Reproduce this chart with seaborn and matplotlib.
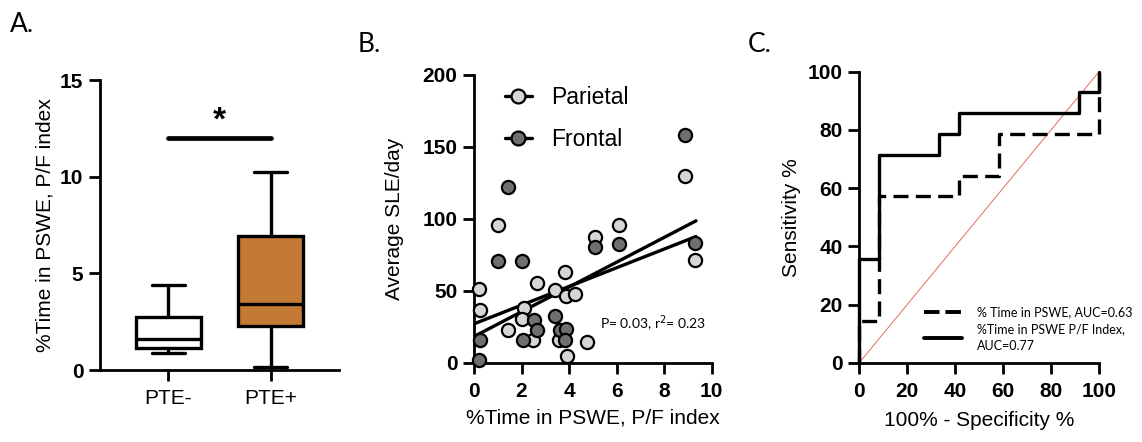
import numpy as np
import pandas as pd
import matplotlib
matplotlib.use("Agg")
import matplotlib.pyplot as plt
from matplotlib.lines import Line2D
import seaborn as sns

# ---- Panel A: box summaries (low whisker, Q1, median, Q3, high whisker) ----
groups = ["PTE-", "PTE+"]
pte_neg = [0.86, 1.12, 1.60, 2.76, 4.40]
pte_pos = [0.17, 2.28, 3.40, 6.93, 10.22]
box_colors = ["white", "#c27a35"]
sig_pair = [0, 1]
sig_y = 12.0

# ---- Panel B: %Time in PSWE (P/F index) vs average SLE/day ----
par_x = [0.22, 0.27, 1.02, 1.44, 2.10, 2.00, 2.63, 2.49, 3.40, 3.82,
         3.86, 4.27, 3.58, 3.92, 4.77, 5.08, 6.10, 8.88, 9.31]
par_y = [51.3, 37.0, 95.5, 23.1, 38.2, 30.5, 55.5, 15.7, 50.4, 62.9,
         46.2, 48.1, 16.2, 4.6, 14.6, 87.2, 95.5, 130.2, 71.7]
fro_x = [0.27, 0.22, 1.02, 1.44, 2.00, 2.07, 2.52, 2.63, 3.40, 3.61,
         3.89, 3.82, 5.08, 6.10, 8.88, 9.31]
fro_y = [16.2, 2.3, 70.5, 122.5, 70.5, 15.7, 29.6, 22.7, 32.4, 23.1,
         23.6, 15.7, 80.9, 82.5, 158.4, 83.2]
# linear fits (slope, intercept) and the x span they cover
fit_slopes = [8.6, 6.49]
fit_intercepts = [18.4, 27.2]
fit_span = [0.07, 9.34]

# ---- Panel C: ROC curves (100% - specificity, sensitivity) ----
roc_pct_fpr = [0, 0, 8.33, 8.33, 41.67, 41.67, 58.33, 58.33, 100, 100]
roc_pct_tpr = [0, 14.29, 14.29, 57.14, 57.14, 64.29, 64.29, 78.57, 78.57, 100]
roc_pf_fpr = [0, 0, 8.33, 8.33, 33.33, 33.33, 41.67, 41.67, 91.67, 91.67, 100, 100]
roc_pf_tpr = [0, 35.71, 35.71, 71.43, 71.43, 78.57, 78.57, 85.71, 85.71, 92.86, 92.86, 100]
chance = [0, 100]

sns.set_theme(style="ticks")
plt.rcParams["font.family"] = ["Liberation Sans", "DejaVu Sans"]
plt.rcParams.update({
    "axes.linewidth": 2.0,
    "xtick.major.width": 2.0,
    "ytick.major.width": 2.0,
    "xtick.major.size": 8,
    "ytick.major.size": 8,
    "xtick.major.pad": 6,
    "ytick.major.pad": 4,
    "xtick.color": "black",
    "ytick.color": "black",
    "axes.edgecolor": "black",
    "text.color": "black",
    "axes.labelcolor": "black",
})

W, H = 1142, 442
fig = plt.figure(figsize=(W / 100, H / 100), dpi=100)


def px_axes(left, top, right, bottom):
    return fig.add_axes([left / W, 1 - bottom / H, (right - left) / W, (bottom - top) / H])


tick_font = dict(fontsize=15, fontweight="bold")
label_font = dict(fontsize=15)
calibri_like = ["Lato", "DejaVu Sans"]

# ---------------- Panel A ----------------
axA = px_axes(100, 80, 339, 370)
dfA = pd.DataFrame({
    "group": np.repeat(groups, 5),
    "value": pte_neg + pte_pos,
})
sns.boxplot(data=dfA, x="group", y="value", hue="group", palette=box_colors,
            saturation=1, whis=(0, 100), width=0.64, linecolor="black",
            linewidth=2.4, legend=False, ax=axA)
axA.set_xlim(-0.67, 1.67)
axA.set_ylim(0, 15)
axA.set_yticks([0, 5, 10, 15])
axA.set_yticklabels(["0", "5", "10", "15"], **tick_font)
axA.set_xticks([0, 1])
axA.set_xticklabels(groups, fontsize=15)
axA.set_xlabel("")
axA.set_ylabel("%Time in PSWE, P/F index", labelpad=4, **label_font)
axA.plot(sig_pair, [sig_y, sig_y], color="black", lw=3.4, solid_capstyle="round", clip_on=False)
axA.text(np.mean(sig_pair), sig_y + 0.05, "*", ha="center", va="bottom",
         fontsize=24, fontweight="bold")
sns.despine(ax=axA)

# ---------------- Panel B ----------------
axB = px_axes(474, 75, 711.7, 363)
dfP = pd.DataFrame({"x": par_x, "y": par_y})
dfF = pd.DataFrame({"x": fro_x, "y": fro_y})
par_color = "#d6d6d6"
fro_color = "#6f6f6f"
sns.scatterplot(data=dfP, x="x", y="y", color=par_color, edgecolor="black",
                linewidth=1.6, s=90, ax=axB, zorder=3, clip_on=False)
sns.scatterplot(data=dfF, x="x", y="y", color=fro_color, edgecolor="black",
                linewidth=1.6, s=90, ax=axB, zorder=3, clip_on=False)
for slope, icpt in zip(fit_slopes, fit_intercepts):
    xs = np.array(fit_span)
    sns.lineplot(x=xs, y=icpt + slope * xs, color="black", lw=2.4, ax=axB, zorder=2)
axB.set_xlim(0, 10)
axB.set_ylim(0, 200)
axB.set_xticks([0, 2, 4, 6, 8, 10])
axB.set_xticklabels(["0", "2", "4", "6", "8", "10"], **tick_font)
axB.set_yticks([0, 50, 100, 150, 200])
axB.set_yticklabels(["0", "50", "100", "150", "200"], **tick_font)
axB.set_xlabel("%Time in PSWE, P/F index", labelpad=5, **label_font)
axB.set_ylabel("Average SLE/day", labelpad=13, **label_font)
handles = [
    Line2D([], [], color="black", lw=2.4, marker="o", markersize=10,
           markerfacecolor=par_color, markeredgecolor="black", markeredgewidth=1.6),
    Line2D([], [], color="black", lw=2.4, marker="o", markersize=10,
           markerfacecolor=fro_color, markeredgecolor="black", markeredgewidth=1.6),
]
axB.legend(handles, ["Parietal", "Frontal"], loc="upper left",
           bbox_to_anchor=(0.09, 0.995), frameon=False, fontsize=16.5,
           handlelength=1.2, handletextpad=0.85, labelspacing=0.85, borderaxespad=0)
axB.text(0.53, 0.135, "P= 0.03, r$^2$= 0.23", transform=axB.transAxes,
         fontsize=10, family=calibri_like, ha="left", va="center")
sns.despine(ax=axB)

# ---------------- Panel C ----------------
axC = px_axes(859.3, 71.7, 1099, 362.7)
sns.lineplot(x=chance, y=chance, color="#e0705c", lw=0.7, ax=axC)
sns.lineplot(x=roc_pct_fpr, y=roc_pct_tpr, sort=False, estimator=None,
             color="black", lw=2.4, linestyle=(0, (4.5, 2.2)), ax=axC)
sns.lineplot(x=roc_pf_fpr, y=roc_pf_tpr, sort=False, estimator=None,
             color="black", lw=2.4, ax=axC)
for ln in axC.lines:
    ln.set_clip_on(False)
axC.set_xlim(0, 100)
axC.set_ylim(0, 100)
ticksC = [0, 20, 40, 60, 80, 100]
axC.set_xticks(ticksC)
axC.set_xticklabels([str(t) for t in ticksC], **tick_font)
axC.set_yticks(ticksC)
axC.set_yticklabels([str(t) for t in ticksC], **tick_font)
axC.set_xlabel("100% - Specificity %", labelpad=7, **label_font)
axC.set_ylabel("Sensitivity %", labelpad=5, **label_font)
legC_handles = [
    Line2D([], [], color="black", lw=2.8, linestyle=(0, (4.0, 1.5))),
    Line2D([], [], color="black", lw=2.8),
]
legC = axC.legend(legC_handles, ["% Time in PSWE, AUC=0.63", "%Time in PSWE P/F Index,\nAUC=0.77"],
                  loc="lower left", bbox_to_anchor=(0.25, 0.02), frameon=False,
                  prop=dict(family=calibri_like, size=9), handlelength=3.0,
                  handletextpad=1.2, labelspacing=0.4, borderaxespad=0)
for t in legC.get_texts():
    t.set_linespacing(1.5)
sns.despine(ax=axC)

# ---------------- Panel letters ----------------
for lbl, xpx, ypx in [("A.", 10, 32), ("B.", 358, 52), ("C.", 748, 52)]:
    fig.text(xpx / W, 1 - ypx / H, lbl, fontsize=19, family=calibri_like,
             ha="left", va="baseline")

fig.savefig("out.png", dpi=100, facecolor="white")
